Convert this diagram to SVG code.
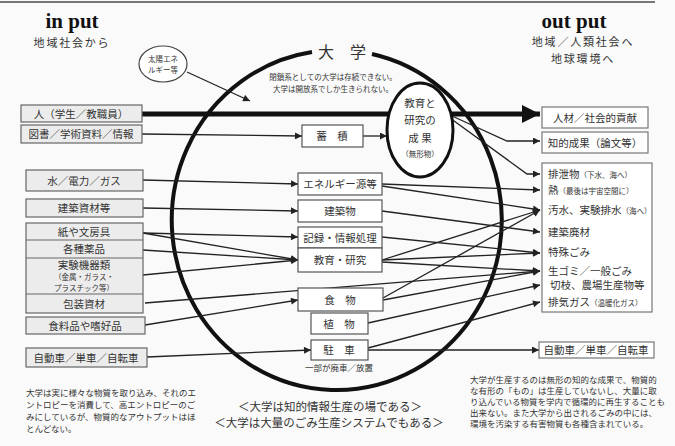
<svg xmlns="http://www.w3.org/2000/svg" width="675" height="446" viewBox="0 0 675 446">
<defs>
<style>
text{font-family:"Noto Sans CJK JP","Noto Sans",sans-serif;fill:#333}
.en{font-family:"Liberation Serif",serif;font-weight:bold;fill:#111}
.lbox{fill:#ececec;stroke:#666;stroke-width:1.2}
.mbox{fill:#fff;stroke:#555;stroke-width:1.2}
.rbox{fill:#fff;stroke:#777;stroke-width:1.2}
.t11{font-size:10.5px}
.t8{font-size:7.5px}
.t85{font-size:8.5px}
.hd{font-size:11px;letter-spacing:1.8px}
.c{stroke:#222;stroke-width:1.3;fill:none}
.ca{stroke:#222;stroke-width:1.3;fill:none;marker-end:url(#ah)}
</style>
<marker id="ah" viewBox="0 0 10 10" refX="10" refY="5" markerWidth="9" markerHeight="7" orient="auto" markerUnits="userSpaceOnUse"><path d="M0,0 L10,5 L0,10 z" fill="#222"/></marker>
<marker id="big" viewBox="0 0 10 10" refX="10" refY="5" markerWidth="22" markerHeight="18" orient="auto" markerUnits="userSpaceOnUse"><path d="M0,0 L10,5 L0,10 z" fill="#111"/></marker>
</defs>
<rect width="675" height="446" fill="#fafafa"/>
<line x1="0" y1="2" x2="655" y2="2" stroke="#777" stroke-width="2"/>

<g id="header">
<text x="72" y="28" class="en" font-size="21" text-anchor="middle">in put</text>
<text x="72" y="47" class="hd" text-anchor="middle">地域社会から</text>
<text x="574" y="28" class="en" font-size="21" text-anchor="middle">out put</text>
<text x="583" y="46" class="hd" text-anchor="middle">地域／人類社会へ</text>
<text x="583" y="63" class="hd" text-anchor="middle">地球環境へ</text>
</g>

<g id="university">
<path d="M372 54 A165 170 0 1 1 312 52" fill="none" stroke="#111" stroke-width="4"/>
<text x="342" y="58" font-size="16" text-anchor="middle" fill="#111">大　学</text>
<text x="333" y="80" font-size="7.5" text-anchor="middle">閉鎖系としての大学は存続できない。</text>
<text x="333" y="92" font-size="7.5" text-anchor="middle">大学は開放系でしか生きられない。</text>
</g>

<g id="sun">
<ellipse cx="163" cy="64" rx="24" ry="18" fill="#fff" stroke="#444" stroke-width="1.2"/>
<text x="163" y="62" class="t8" text-anchor="middle">太陽エネ</text>
<text x="163" y="73" class="t8" text-anchor="middle">ルギー等</text>
</g>

<g id="connectors">
<line x1="142" y1="114" x2="388" y2="114" stroke="#111" stroke-width="5"/>
<line x1="452" y1="114" x2="540" y2="114" stroke="#111" stroke-width="5" marker-end="url(#big)"/>
<path class="ca" d="M187 72 L250 101"/>
<path class="ca" d="M142 134 L302 136"/>
<path class="ca" d="M363 136 L387 136"/>
<path class="ca" d="M143 180 L298 184"/>
<path class="ca" d="M143 208 L298 211"/>
<path class="ca" d="M143 233 L298 237"/>
<path class="ca" d="M143 233 L298 260"/>
<path class="ca" d="M143 250 L298 260"/>
<path class="ca" d="M143 275 L298 260"/>
<path class="ca" d="M145 303 L540 271"/>
<path class="ca" d="M145 325 L298 300"/>
<path class="ca" d="M147 357 L311 350"/>
<path class="ca" d="M368 350 L539 350"/>
<path class="ca" d="M368 348 L540 302"/>
<path class="ca" d="M368 323 L540 285"/>
<path class="ca" d="M383 300 L540 271"/>
<path class="ca" d="M383 298 L540 210"/>
<path class="ca" d="M382 260 L540 210"/>
<path class="ca" d="M382 260 L540 253"/>
<path class="ca" d="M382 262 L540 271"/>
<path class="ca" d="M382 237 L540 253"/>
<path class="ca" d="M382 184 L540 190"/>
<path class="ca" d="M382 186 L540 210"/>
<path class="ca" d="M382 211 L540 232"/>
<path class="ca" d="M452 116 L507 141 L540 141"/>
<path class="ca" d="M450 118 L527 174 L540 174"/>
</g>

<g id="result">
<ellipse cx="420" cy="130" rx="33" ry="47" fill="#fff" stroke="#111" stroke-width="3"/>
<text x="420" y="107" class="t11" text-anchor="middle">教育と</text>
<text x="420" y="124" class="t11" text-anchor="middle">研究の</text>
<text x="420" y="142" class="t11" text-anchor="middle">成 果</text>
<text x="420" y="157" class="t8" text-anchor="middle">（無形物）</text>
</g>

<g id="in-people"><rect class="lbox" x="21" y="105" width="121" height="17"/><text x="81" y="117.5" class="t11" text-anchor="middle">人（学生／教職員）</text></g>
<g id="in-books"><rect class="lbox" x="21" y="125" width="121" height="18"/><text x="81" y="138" class="t11" text-anchor="middle">図書／学術資料／情報</text></g>
<g id="in-water"><rect class="lbox" x="26" y="170" width="117" height="21"/><text x="84" y="184.5" class="t11" text-anchor="middle">水／電力／ガス</text></g>
<g id="in-build"><rect class="lbox" x="26" y="199" width="117" height="18"/><text x="84" y="212" class="t11" text-anchor="middle">建築資材等</text></g>
<g id="in-goods">
<rect class="lbox" x="26" y="223" width="117" height="90"/>
<line x1="26" y1="240" x2="143" y2="240" stroke="#666"/>
<line x1="26" y1="258" x2="143" y2="258" stroke="#666"/>
<line x1="26" y1="294" x2="143" y2="294" stroke="#666"/>
<text x="84" y="235.5" class="t11" text-anchor="middle">紙や文房具</text>
<text x="84" y="253" class="t11" text-anchor="middle">各種薬品</text>
<text x="84" y="269" class="t11" text-anchor="middle">実験機器類</text>
<text x="84" y="280" class="t8" text-anchor="middle">（金属・ガラス・</text>
<text x="84" y="291" class="t8" text-anchor="middle">プラスチック等）</text>
<text x="84" y="307.5" class="t11" text-anchor="middle">包装資材</text>
</g>
<g id="in-food"><rect class="lbox" x="26" y="317" width="119" height="17"/><text x="85" y="329.5" class="t11" text-anchor="middle">食料品や嗜好品</text></g>
<g id="in-car"><rect class="lbox" x="26" y="348" width="121" height="19"/><text x="86" y="361.5" class="t11" text-anchor="middle">自動車／単車／自転車</text></g>

<g id="m-stock"><rect class="mbox" x="302" y="125" width="61" height="22"/><text x="332" y="140" class="t11" text-anchor="middle">蓄　積</text></g>
<g id="m-energy"><rect class="mbox" x="298" y="173" width="84" height="22"/><text x="340" y="188" class="t11" text-anchor="middle">エネルギー源等</text></g>
<g id="m-building"><rect class="mbox" x="298" y="200" width="84" height="22"/><text x="340" y="215" class="t11" text-anchor="middle">建築物</text></g>
<g id="m-record"><rect class="mbox" x="298" y="227" width="84" height="21"/><text x="340" y="241.5" class="t11" text-anchor="middle">記録・情報処理</text></g>
<g id="m-edu"><rect class="mbox" x="298" y="248" width="84" height="24"/><text x="340" y="264" class="t11" text-anchor="middle">教育・研究</text></g>
<g id="m-food"><rect class="mbox" x="298" y="288" width="85" height="23"/><text x="340" y="303.5" class="t11" text-anchor="middle">食　物</text></g>
<g id="m-plant"><rect class="mbox" x="311" y="313" width="57" height="21"/><text x="339" y="327.5" class="t11" text-anchor="middle">植　物</text></g>
<g id="m-park"><rect class="mbox" x="311" y="340" width="57" height="20"/><text x="339" y="354" class="t11" text-anchor="middle">駐　車</text>
<text x="339" y="371" class="t85" text-anchor="middle">一部が廃車／放置</text></g>

<g id="out-people"><rect class="rbox" x="542" y="107" width="106" height="21"/><text x="595" y="121.5" class="t11" text-anchor="middle">人材／社会的貢献</text></g>
<g id="out-paper"><rect class="rbox" x="542" y="132" width="106" height="21"/><text x="595" y="146.5" class="t11" text-anchor="middle">知的成果（論文等）</text></g>
<g id="out-waste">
<rect class="rbox" x="542" y="163" width="110" height="149"/>
<text x="548" y="178" class="t11">排泄物<tspan class="t8">（下水、海へ）</tspan></text>
<text x="548" y="194" class="t11">熱<tspan class="t8">（最後は宇宙空間に）</tspan></text>
<text x="548" y="214" class="t11">汚水、実験排水<tspan class="t8">（海へ）</tspan></text>
<text x="548" y="236" class="t11">建築廃材</text>
<text x="548" y="256" class="t11">特殊ごみ</text>
<text x="548" y="275" class="t11">生ゴミ／一般ごみ</text>
<text x="550" y="289" class="t11">切枝、農場生産物等</text>
<text x="548" y="306" class="t11">排気ガス<tspan class="t8">（温暖化ガス）</tspan></text>
</g>
<g id="out-car"><rect class="rbox" x="539" y="342" width="115" height="16"/><text x="596" y="354" class="t11" text-anchor="middle">自動車／単車／自転車</text></g>

<g id="notes">
<text x="26" y="396" class="t85">大学は実に様々な物質を取り込み、それのエ</text>
<text x="26" y="408" class="t85">ントロピーを消費して、高エントロピーのご</text>
<text x="26" y="420" class="t85">みにしているが、物質的なアウトプットはほ</text>
<text x="26" y="432" class="t85">とんどない。</text>
<text x="330" y="411" font-size="11.5" text-anchor="middle">＜大学は知的情報生産の場である＞</text>
<text x="329" y="427" font-size="11.5" text-anchor="middle">＜大学は大量のごみ生産システムでもある＞</text>
<text x="470" y="383" class="t85">大学が生産するのは無形の知的な成果で、物質的</text>
<text x="470" y="394" class="t85">な有形の「もの」は生産していないし、大量に取</text>
<text x="470" y="405" class="t85">り込んでいる物質を学内で循環的に再生することも</text>
<text x="470" y="416" class="t85">出来ない。また大学から出されるごみの中には、</text>
<text x="470" y="427" class="t85">環境を汚染する有害物質も各種含まれている。</text>
</g>
</svg>
